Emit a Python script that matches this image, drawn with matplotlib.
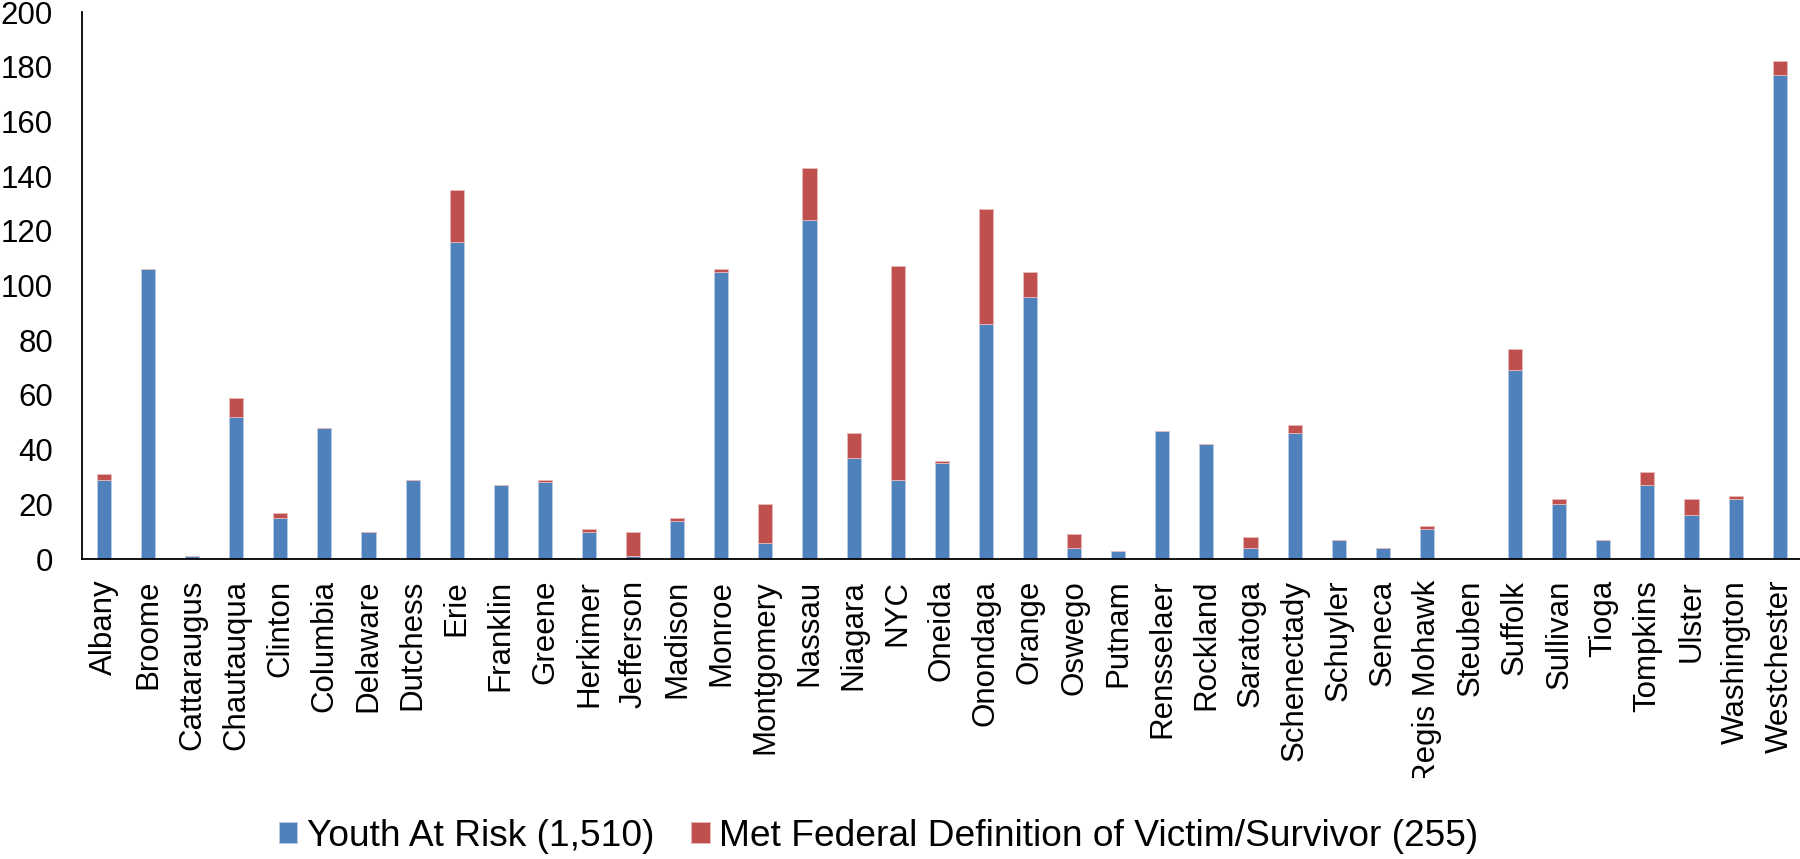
import matplotlib
matplotlib.use("Agg")
import matplotlib.pyplot as plt
import numpy as np
from matplotlib.transforms import Bbox, TransformedBbox

plt.rcParams['font.family'] = ['Liberation Sans', 'DejaVu Sans']

counties = [
    "Albany", "Broome", "Cattaraugus", "Chautauqua", "Clinton", "Columbia",
    "Delaware", "Dutchess", "Erie", "Franklin", "Greene", "Herkimer",
    "Jefferson", "Madison", "Monroe", "Montgomery", "Nassau", "Niagara",
    "NYC", "Oneida", "Onondaga", "Orange", "Oswego", "Putnam", "Rensselaer",
    "Rockland", "Saratoga", "Schenectady", "Schuyler", "Seneca",
    "Regis Mohawk", "Steuben", "Suffolk", "Sullivan", "Tioga", "Tompkins",
    "Ulster", "Washington", "Westchester",
]
youth_at_risk = [
    29, 106, 1, 52, 15, 48, 10, 29, 116, 27, 28, 10,
    1, 14, 105, 6, 124, 37, 29, 35, 86, 96, 4, 3, 47,
    42, 4, 46, 7, 4, 11, 0, 69, 20, 7, 27, 16, 22, 177,
]
met_federal = [
    2, 0, 0, 7, 2, 0, 0, 0, 19, 0, 1, 1,
    9, 1, 1, 14, 19, 9, 78, 1, 42, 9, 5, 0, 0,
    0, 4, 3, 0, 0, 1, 0, 8, 2, 0, 5, 6, 1, 5,
]
legend_labels = ["Youth At Risk (1,510)",
                 "Met Federal Definition of Victim/Survivor (255)"]

BLUE = '#4F81BD'
RED = '#C0504D'

fig = plt.figure(figsize=(18, 8.59), dpi=100)
ax = fig.add_axes([0.0457, 0.3492, 0.9543, 0.6366])

x = np.arange(len(counties))
ax.bar(x, youth_at_risk, width=0.32, color=BLUE, edgecolor='#b9cce4',
       linewidth=0.6, label=legend_labels[0])
ax.bar(x, met_federal, width=0.32, bottom=youth_at_risk, color=RED,
       edgecolor='#e6b9b8', linewidth=0.6, label=legend_labels[1])

ax.set_xlim(-0.49, 38.46)
ax.set_ylim(0, 200)
ax.set_yticks(range(0, 201, 20))
ax.set_xticks(x)
ax.set_xticklabels(counties, rotation=90, va='top', ha='center')
ax.tick_params(axis='both', length=0, labelsize=22.5)
ax.tick_params(axis='y', pad=21)
ax.tick_params(axis='x', pad=15)

for side in ['top', 'right']:
    ax.spines[side].set_visible(False)
for side in ['left', 'bottom']:
    ax.spines[side].set_linewidth(1.3)
    ax.spines[side].set_color('black')

# long labels get cut off above the legend, as in the original
clip = TransformedBbox(Bbox([[0, 0.0943], [1, 1]]), fig.transFigure)
for lbl in ax.get_xticklabels():
    lbl.set_clip_box(clip)
    lbl.set_clip_on(True)

fig.legend(loc='center', bbox_to_anchor=(0.488, 1 - 836 / 859),
           ncol=2, frameon=False, fontsize=26.7,
           handlelength=0.5, handleheight=0.5, handletextpad=0.25,
           columnspacing=1.0, borderpad=0)

fig.savefig('out.png', dpi=100)
